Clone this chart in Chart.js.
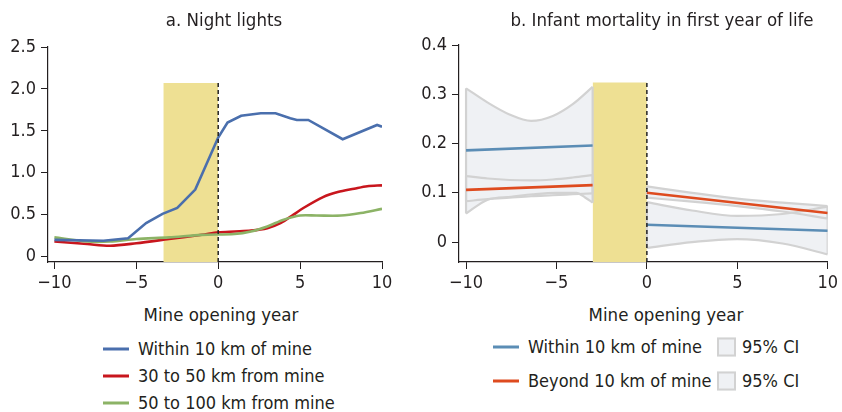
<!DOCTYPE html>
<html>
<head>
<meta charset="utf-8">
<script src="https://cdn.jsdelivr.net/npm/chart.js@4.4.1/dist/chart.umd.min.js"></script>
<style>
  body { margin: 0; background: #fff; }
  #page {
    position: relative; width: 842px; height: 412px; overflow: hidden;
    font-family: "DejaVu Sans Condensed", "Liberation Sans", sans-serif;
    color: #231f20;
  }
  .pane { position: absolute; top: 0; }
  .txt { position: absolute; white-space: nowrap; font-size: 18.5px; line-height: 1; transform: translate(-50%, -50%); }
  .leg { position: absolute; white-space: nowrap; font-size: 18px; line-height: 1; transform: translateY(-50%); }
  .key { position: absolute; height: 3px; width: 26px; transform: translateY(-50%); }
  .ci { position: absolute; width: 15px; height: 15px; border: 2px solid #d2d2d2; background: #eff1f4; transform: translateY(-50%); }
</style>
</head>
<body>
<div id="page">
  <div class="pane" style="left:0;width:410px;height:300px"><canvas id="lights" width="410" height="300"></canvas></div>
  <div class="pane" style="left:410px;width:432px;height:300px"><canvas id="infant" width="432" height="300"></canvas></div>

  <div class="txt" style="left:224px;top:20px">a. Night lights</div>
  <div class="txt" style="left:662px;top:20px">b. Infant mortality in first year of life</div>
  <div class="txt" style="left:221px;top:315px">Mine opening year</div>
  <div class="txt" style="left:666px;top:315px">Mine opening year</div>

  <div class="key" style="left:103px;top:349px;background:#4a6fad"></div>
  <div class="leg" style="left:138px;top:349px">Within 10 km of mine</div>
  <div class="key" style="left:103px;top:376px;background:#c8161d"></div>
  <div class="leg" style="left:138px;top:376px">30 to 50 km from mine</div>
  <div class="key" style="left:103px;top:403px;background:#8cb366"></div>
  <div class="leg" style="left:138px;top:403px">50 to 100 km from mine</div>

  <div class="key" style="left:493px;top:347px;background:#5b8db5"></div>
  <div class="leg" style="left:528px;top:347px">Within 10 km of mine</div>
  <div class="ci" style="left:717px;top:347px"></div>
  <div class="leg" style="left:742px;top:347px">95% CI</div>
  <div class="key" style="left:493px;top:381px;background:#de4b1f"></div>
  <div class="leg" style="left:528px;top:381px">Beyond 10 km of mine</div>
  <div class="ci" style="left:717px;top:381px"></div>
  <div class="leg" style="left:742px;top:381px">95% CI</div>
</div>

<script>
// years relative to mine opening
const xTicks = [-10, -5, 0, 5, 10]
const xMin = -10.39
const xMax = 10

// a. night lights
const lightsTicks = [0, 0.5, 1.0, 1.5, 2.0, 2.5]
const lightsMin = -0.064
const lightsShade = [-3.35, 0, 2.07] // from, to, top

const nearX = [-10, -7, -5.5, -4.4, -3.4, -2.5, -1.4, 0, 0.57, 1.4, 2.6, 3.5, 4.4, 4.8, 5.5, 7.6, 9.7, 10]
const nearY = [0.20, 0.19, 0.22, 0.40, 0.51, 0.58, 0.80, 1.42, 1.60, 1.68, 1.71, 1.71, 1.65, 1.63, 1.63, 1.40, 1.57, 1.55]
const midX = [-10, -8, -6.6, -5, -3, -1, 0, 1, 2, 3, 3.8, 4.6, 5.2, 6.4, 7.3, 8.3, 9.1, 10]
const midY = [0.18, 0.15, 0.13, 0.16, 0.21, 0.26, 0.29, 0.30, 0.31, 0.34, 0.40, 0.50, 0.58, 0.71, 0.77, 0.81, 0.84, 0.85]
const farX = [-10, -8, -6.6, -5, -3, -1, 1, 2, 3, 4, 5, 6, 7.5, 8.7, 10]
const farY = [0.23, 0.18, 0.18, 0.21, 0.23, 0.26, 0.27, 0.30, 0.36, 0.44, 0.49, 0.49, 0.49, 0.52, 0.57]

// b. infant mortality
const infantTicks = [0, 0.1, 0.2, 0.3, 0.4]
const infantMin = -0.0405
const infantShade = [-3, 0, 0.324]

const preX = [-10, -3]
const postX = [0, 10]
const withinPre = [0.186, 0.196]
const withinPost = [0.035, 0.023]
const beyondPre = [0.106, 0.1155]
const beyondPost = [0.100, 0.059]

const bandPreX = [-10, -8.8, -7.6, -6.4, -5.2, -4.1, -3]
const withinPreHi = [0.312, 0.283, 0.259, 0.246, 0.256, 0.280, 0.315]
const withinPreLoX = [-10, -8.8, -7.5, -6.3, -5, -3.9, -3.4, -3]
const withinPreLo = [0.058, 0.086, 0.092, 0.097, 0.100, 0.100, 0.090, 0.080]
const beyondPreHi = [0.134, 0.129, 0.126, 0.125, 0.127, 0.131, 0.136]
const beyondPreLo = [0.083, 0.087, 0.090, 0.093, 0.095, 0.097, 0.099]

const bandPostX = [0, 2.5, 5, 7.5, 10]
const withinPostHi = [0.081, 0.064, 0.053, 0.057, 0.072]
const withinPostLo = [-0.012, 0.000, 0.006, -0.003, -0.025]
const beyondPostHi = [0.113, 0.100, 0.088, 0.080, 0.073]
const beyondPostLo = [0.090, 0.082, 0.073, 0.062, 0.048]

const shadeColor = "#eee093"
const bandFill = "#eff1f4"
const bandLine = "#d2d2d2"
const axisColor = "#231f20"
const fontFamily = '"DejaVu Sans Condensed", "Liberation Sans", sans-serif'

const pts = (xs, ys) => xs.map((x, i) => ({ x, y: ys[i] }))
const minus = (v) => String(v).replace("-", "\u2212")

Chart.defaults.font.family = fontFamily
Chart.defaults.color = axisColor

function line(data, color, width, extra) {
  return Object.assign({
    data, borderColor: color, borderWidth: width, pointRadius: 0,
    fill: false, tension: 0,
  }, extra || {})
}

function shadeSets(shade, yMin) {
  const [from, to, top] = shade
  return [
    line([{ x: 0, y: yMin }, { x: 0, y: top }], "#222", 1.5, { borderDash: [4, 3] }),
    line([{ x: from, y: top }, { x: to, y: top }], shadeColor, 0, {
      fill: "start", backgroundColor: shadeColor, order: 10,
    }),
  ]
}

function scales(ticks, yMin, yMax, fmt, left, bottom) {
  return {
    x: {
      type: "linear", min: xMin, max: xMax,
      afterBuildTicks: (s) => { s.ticks = xTicks.map((v) => ({ value: v })) },
      afterFit: (s) => { s.height = bottom },
      ticks: { callback: minus, font: { size: 18 }, padding: 4, maxRotation: 0 },
      grid: { drawOnChartArea: false, tickLength: 7, color: axisColor },
      border: { color: axisColor, width: 1.2 },
    },
    y: {
      min: yMin, max: yMax,
      afterBuildTicks: (s) => { s.ticks = ticks.map((v) => ({ value: v })) },
      afterFit: (s) => { s.width = left },
      ticks: { callback: fmt, font: { size: 18 }, padding: 5 },
      grid: { drawOnChartArea: false, tickLength: 7, color: axisColor },
      border: { color: axisColor, width: 1.2 },
    },
  }
}

const common = {
  type: "line",
  options: {
    responsive: false,
    animation: false,
    events: [],
    plugins: { legend: { display: false }, tooltip: { enabled: false } },
  },
}

new Chart(document.getElementById("lights"), {
  ...common,
  data: {
    datasets: [
      ...shadeSets(lightsShade, lightsMin),
      line(pts(nearX, nearY), "#4a6fad", 2.6),
      line(pts(farX, farY), "#8cb366", 2.6, { tension: 0.3 }),
      line(pts(midX, midY), "#c8161d", 2.6, { tension: 0.3 }),
    ],
  },
  options: {
    ...common.options,
    layout: { padding: { left: 0, top: 47, right: 28, bottom: 0 } },
    scales: scales(lightsTicks, lightsMin, 2.5,
      (v) => (v === 0 ? "0" : v.toFixed(1)), 48, 38),
  },
})

// confidence band: upper edge filled down to lower edge, plus the two end caps
function band(xs, hi, loXs, lo) {
  const lower = pts(loXs, lo)
  const upper = pts(xs, hi)
  const opts = { cubicInterpolationMode: "monotone" }
  return [
    line(upper, bandLine, 2.2, { ...opts, fill: "+1", backgroundColor: bandFill }),
    line(lower, bandLine, 2.2, opts),
    line([upper[0], lower[0]], bandLine, 2.2),
    line([upper[upper.length - 1], lower[lower.length - 1]], bandLine, 2.2),
  ]
}

new Chart(document.getElementById("infant"), {
  ...common,
  data: {
    datasets: [
      ...shadeSets(infantShade, infantMin),
      line(pts(preX, withinPre), "#5b8db5", 2.6),
      line(pts(postX, withinPost), "#5b8db5", 2.6),
      line(pts(preX, beyondPre), "#de4b1f", 2.6),
      line(pts(postX, beyondPost), "#de4b1f", 2.6),
      ...band(bandPreX, withinPreHi, withinPreLoX, withinPreLo),
      ...band(bandPreX, beyondPreHi, bandPreX, beyondPreLo),
      ...band(bandPostX, withinPostHi, bandPostX, withinPostLo),
      ...band(bandPostX, beyondPostHi, bandPostX, beyondPostLo),
    ],
  },
  options: {
    ...common.options,
    plugins: { ...common.options.plugins, filler: { drawTime: "beforeDatasetsDraw" } },
    layout: { padding: { left: 0, top: 45, right: 12, bottom: 0 } },
    scales: scales(infantTicks, infantMin, 0.4,
      (v) => (v === 0 ? "0" : v.toFixed(1)), 49, 38),
  },
})
</script>
</body>
</html>
